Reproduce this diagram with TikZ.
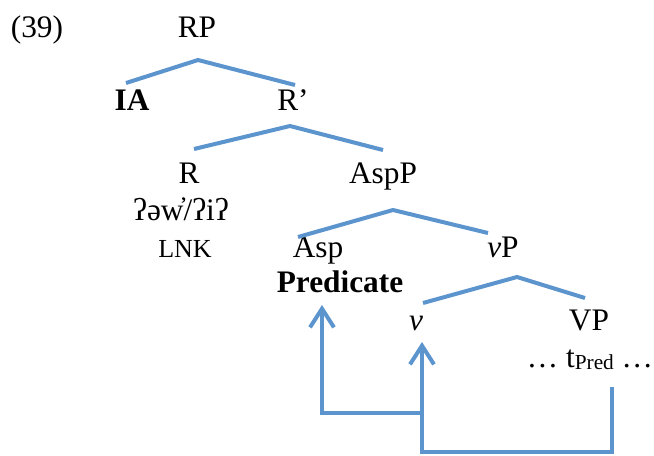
\documentclass[tikz,border=0pt]{standalone}
\usepackage{fontspec}
\setmainfont{Liberation Serif}
\usetikzlibrary{arrows.meta}
\definecolor{branchblue}{RGB}{92,148,206}
\tikzset{
	lbl/.style={anchor=base, inner sep=0pt, font=\fontsize{23.5}{28}\selectfont},
	br/.style={draw=branchblue, line width=3pt},
	mv/.style={br, -{Straight Barb[length=14pt,width=18pt]}}
}
\begin{document}
\begin{tikzpicture}[x=0.75pt,y=-0.75pt]
		\useasboundingbox (0,0) rectangle (654,455);
		\node[lbl] (ex) at (37,37) {(39)};
		\node[lbl] (rp) at (197,37) {RP};
		\node[lbl] (ia) at (132,110) {\bfseries IA};
		\node[lbl] (rbar) at (293,110) {R’};
		\node[lbl] (r) at (189,183) {R};
		\node[lbl] (rform) at (181,220) {ʔəw̓/ʔiʔ};
		\node[lbl,font=\fontsize{19.5}{23}\selectfont] (lnk) at (185,257) {LNK};
		\node[lbl] (aspp) at (383,183) {AspP};
		\node[lbl] (asp) at (318,257) {Asp};
		\node[lbl] (pred) at (340,292) {\bfseries Predicate};
		\node[lbl] (vp) at (503,257) {\textit{v}P};
		\node[lbl] (v) at (416,330) {\textit{v}};
		\node[lbl] (vbar) at (589,330) {VP};
		\node[lbl] (trace) at (590,367) {… t\raisebox{-1.5pt}{\fontsize{16}{16}\selectfont Pred} …};

		\coordinate (rp-l) at (126,83);
		\coordinate (rp-c) at (198,60);
		\coordinate (rp-r) at (295,85);
		\coordinate (rbar-l) at (194,149);
		\coordinate (rbar-c) at (290,126);
		\coordinate (rbar-r) at (383,150);
		\coordinate (aspp-l) at (298,237);
		\coordinate (aspp-c) at (393,210);
		\coordinate (aspp-r) at (488,233);
		\coordinate (vp-l) at (423,303);
		\coordinate (vp-c) at (517,277);
		\coordinate (vp-r) at (585,298);

		\draw[br] (rp-l) -- (rp-c) -- (rp-r);
		\draw[br] (rbar-l) -- (rbar-c) -- (rbar-r);
		\draw[br] (aspp-l) -- (aspp-c) -- (aspp-r);
		\draw[br] (vp-l) -- (vp-c) -- (vp-r);

		\coordinate (predfoot) at (322,305);
		\coordinate (vfoot) at (422,342);
		\coordinate (tfoot) at (612,387);
		\coordinate (j1) at (422,413);

		\draw[mv] (tfoot) -- ++(0,65) -| (vfoot);
		\draw[mv] (j1) -| (predfoot);
\end{tikzpicture}
\end{document}
